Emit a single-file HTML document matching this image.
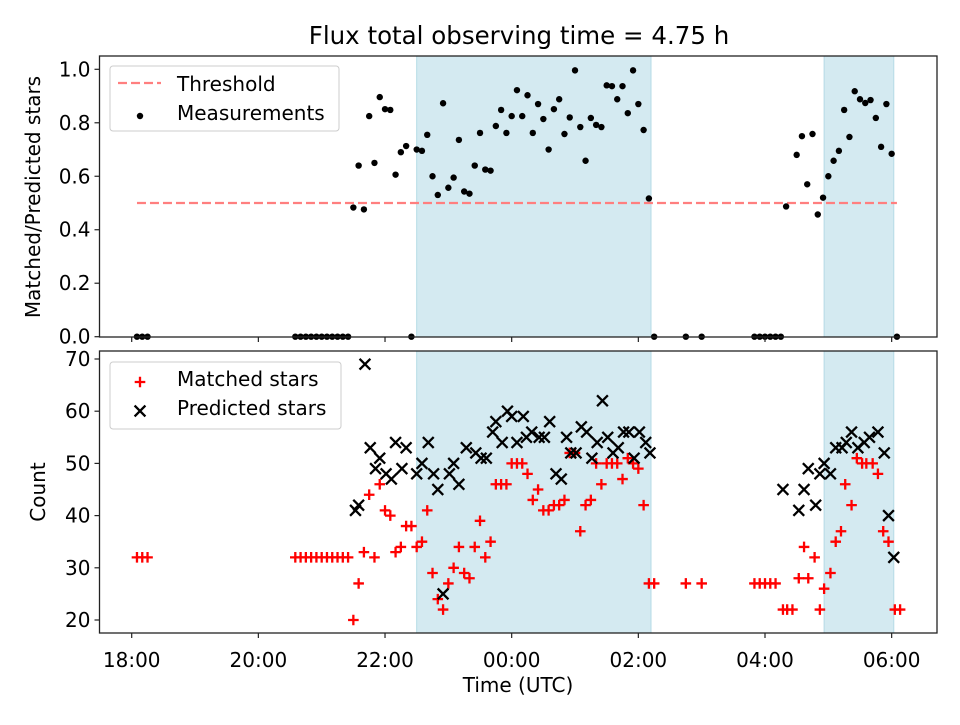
<!DOCTYPE html>
<html><head><meta charset="utf-8"><style>
body{margin:0;background:#fff}
svg text{font-family:"DejaVu Sans","Liberation Sans",sans-serif;fill:#000}
</style></head><body>
<svg id="chart" width="960" height="720" viewBox="0 0 960 720" xmlns="http://www.w3.org/2000/svg">
<text x="519" y="44" font-size="24.5" text-anchor="middle">Flux total observing time = 4.75 h</text>
<g id="topPanel"></g>
<g id="botPanel"></g>
<text x="518" y="692" font-size="20" text-anchor="middle">Time (UTC)</text>
<text transform="translate(40,197) rotate(-90)" font-size="20" text-anchor="middle">Matched/Predicted stars</text>
<text transform="translate(45,492) rotate(-90)" font-size="20" text-anchor="middle">Count</text>
</svg>
<script>
// times in minutes since 18:00 UTC
const spans=[[270,492],[656,722]];
const ratioT=[5,10,15,155,160,165,170,175,180,185,190,195,200,205,210,215,220,225,230,235,240,245,250,255,260,265,270,275,280,285,290,295,300,305,310,315,320,325,330,335,340,345,350,355,360,365,370,375,380,385,390,395,400,405,410,415,420,425,430,435,440,445,450,455,460,465,470,475,480,485,490,495,525,540,590,595,600,605,610,615,620,630,635,640,645,650,655,660,665,670,675,680,685,690,695,700,705,710,715,720,725];
const ratioV=[0,0,0,0,0,0,0,0,0,0,0,0,0,0,0.483,0.64,0.476,0.825,0.65,0.896,0.851,0.848,0.606,0.69,0.713,0,0.70,0.695,0.755,0.60,0.53,0.873,0.557,0.595,0.736,0.543,0.535,0.64,0.762,0.625,0.621,0.788,0.848,0.762,0.825,0.922,0.825,0.903,0.762,0.87,0.814,0.70,0.851,0.888,0.758,0.82,0.996,0.784,0.658,0.818,0.792,0.784,0.94,0.937,0.888,0.937,0.836,0.996,0.87,0.773,0.517,0,0,0,0,0,0,0,0,0,0.487,0.68,0.75,0.57,0.758,0.457,0.52,0.60,0.658,0.695,0.848,0.747,0.918,0.888,0.874,0.885,0.818,0.71,0.87,0.684,0];
const threshold=0.5;
const matchedT=[5,10,15,155,160,165,170,175,180,185,190,195,200,205,210,215,220,225,230,235,240,245,250,255,260,265,270,275,280,285,290,295,300,305,310,315,320,325,330,335,340,345,350,355,360,365,370,375,380,385,390,395,400,405,410,415,420,425,430,435,440,445,450,455,460,465,470,475,480,485,490,495,525,540,590,595,600,605,610,617,621,626,632,637,641,647,652,656,662,667,672,676,682,687,692,696,702,707,712,717,723,728];
const matchedV=[32,32,32,32,32,32,32,32,32,32,32,32,32,32,20,27,33,44,32,46,41,40,33,34,38,38,34,35,41,29,24,22,27,30,34,29,28,34,39,32,35,46,46,46,50,50,50,48,43,45,41,41,42,42,43,52,52,37,42,43,50,46,50,50,50,47,51,50,49,42,27,27,27,27,27,27,27,27,27,22,22,22,28,34,28,32,22,26,29,35,37,46,42,51,50,50,50,48,37,35,22,22];
const predT=[212,215,221,226,231,235,241,246,250,256,260,270,275,281,286,290,295,301,305,310,317,326,331,336,342,345,351,356,360,365,371,374,379,386,391,396,402,407,412,416,421,426,431,436,441,446,451,456,461,466,471,476,481,487,491,617,632,637,641,648,652,656,662,667,673,677,682,688,694,699,707,713,717,722];
const predV=[41,42,69,53,49,51,48,47,54,49,53,48,50,54,48,45,25,48,50,46,53,52,51,51,56,58,54,60,59,54,59,55,56,55,55,58,48,47,55,52,52,57,56,51,54,62,55,52,53,56,56,51,56,54,52,45,41,45,49,42,48,50,48,53,53,54,56,53,54,55,56,52,40,32];
const ratioTicks=[0,0.2,0.4,0.6,0.8,1.0];
const countTicks=[20,30,40,50,60,70];
const timeTicks=[0,120,240,360,480,600,720];
const timeLabels=["18:00","20:00","22:00","00:00","02:00","04:00","06:00"];

const NS="http://www.w3.org/2000/svg";
const L=99.5,R=937;
const FS=20;
const X=m=>131.7+m*63.33/60;
const YT=v=>336.7-v*267.4;
const YB=v=>620-(v-20)*5.22;
function mk(p,tag,a,txt){const e=document.createElementNS(NS,tag);for(const k in a)e.setAttribute(k,a[k]);if(txt!==undefined)e.textContent=txt;p.appendChild(e);return e;}
const topG=document.getElementById('topPanel'),botG=document.getElementById('botPanel');

function panel(g,y0,y1,name){
  const bg=mk(g,'rect',{x:L,y:y0,width:R-L,height:y1-y0,fill:'#fff'});
  
  
  spans.forEach((s,i)=>{
    const r=mk(g,'rect',{x:X(s[0]),y:y0,width:X(s[1])-X(s[0]),height:y1-y0,fill:'#d4eaf1',stroke:'#b5dbe6','stroke-width':1});
    
    
  });
}
panel(topG,56,337,'top');
panel(botG,351,633,'bottom');

const th=mk(topG,'line',{x1:X(5),x2:X(725),y1:YT(threshold),y2:YT(threshold),stroke:'#ff7f7f','stroke-width':2.2,'stroke-dasharray':'9,4'});



ratioT.forEach((t,i)=>{
  if(ratioV[i]===undefined)return;
  const c=mk(topG,'circle',{cx:X(t),cy:YT(ratioV[i]),r:3.2,fill:'#000'});
  
  
});
matchedT.forEach((t,i)=>{
  if(matchedV[i]===undefined)return;
  const x=X(t),y=YB(matchedV[i]),d=5.3;
  const p=mk(botG,'path',{d:`M${x-d},${y}H${x+d}M${x},${y-d}V${y+d}`,stroke:'#f00','stroke-width':2.3});
  
  
});
predT.forEach((t,i)=>{
  if(predV[i]===undefined)return;
  const x=X(t),y=YB(predV[i]),d=5.4;
  const p=mk(botG,'path',{d:`M${x-d},${y-d}L${x+d},${y+d}M${x-d},${y+d}L${x+d},${y-d}`,stroke:'#000','stroke-width':2.3});
  
  
});

[[topG,56,337],[botG,351,633]].forEach(([g,y0,y1],k)=>{
  const f=mk(g,'rect',{x:L,y:y0,width:R-L,height:y1-y0,fill:'none',stroke:'#222','stroke-width':1.3});
  
  
  timeTicks.forEach((m,i)=>{
    mk(g,'line',{x1:X(m),x2:X(m),y1:y1,y2:y1+5,stroke:'#222','stroke-width':1.2});
    if(k){const t=mk(g,'text',{x:X(m),y:y1+34,'font-size':FS,'text-anchor':'middle'},timeLabels[i]);
      
      }
  });
});
ratioTicks.forEach(v=>{
  mk(topG,'line',{x1:L-5,x2:L,y1:YT(v),y2:YT(v),stroke:'#222','stroke-width':1.2});
  const t=mk(topG,'text',{x:L-9,y:YT(v)+7,'font-size':FS,'text-anchor':'end'},v.toFixed(1));
  
  
});
countTicks.forEach(v=>{
  mk(botG,'line',{x1:L-5,x2:L,y1:YB(v),y2:YB(v),stroke:'#222','stroke-width':1.2});
  const t=mk(botG,'text',{x:L-9,y:YB(v)+7,'font-size':FS,'text-anchor':'end'},String(v));
  
  
});

const lg1=mk(topG,'g',{});


mk(lg1,'rect',{x:110,y:66,width:229,height:65,rx:3,fill:'#fff','fill-opacity':0.8,stroke:'#ccc'});
mk(lg1,'line',{x1:118,x2:161,y1:83,y2:83,stroke:'#ff7f7f','stroke-width':2.2,'stroke-dasharray':'9,4'});
mk(lg1,'text',{x:177,y:91,'font-size':FS},'Threshold');
mk(lg1,'circle',{cx:140,cy:116,r:3.2,fill:'#000'});
mk(lg1,'text',{x:177,y:120,'font-size':FS},'Measurements');
const lg2=mk(botG,'g',{});


mk(lg2,'rect',{x:110,y:362,width:231,height:67,rx:3,fill:'#fff','fill-opacity':0.8,stroke:'#ccc'});
mk(lg2,'path',{d:'M134.7,382H145.3M140,376.7V387.3',stroke:'#f00','stroke-width':2.3});
mk(lg2,'text',{x:177,y:386,'font-size':FS},'Matched stars');
mk(lg2,'path',{d:'M134.6,405.6L145.4,416.4M134.6,416.4L145.4,405.6',stroke:'#000','stroke-width':2.3});
mk(lg2,'text',{x:177,y:415,'font-size':FS},'Predicted stars');
</script>
</body></html>
